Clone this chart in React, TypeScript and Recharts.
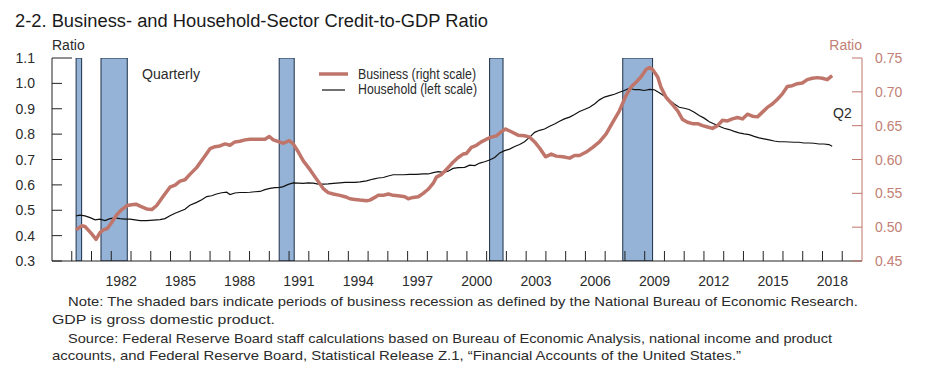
import React from 'react';
import { ComposedChart, Line, XAxis, YAxis, ReferenceArea } from 'recharts';

// ---------- data ----------
const businessDates = [
  1980.22, 1980.5, 1980.67, 1981.01, 1981.23, 1981.43, 1981.6, 1981.8, 1982.02, 1982.27, 1982.53, 1982.81,
  1983.03, 1983.25, 1983.46, 1983.79, 1984.05, 1984.3, 1984.64, 1984.97, 1985.23, 1985.48, 1985.73, 1985.98,
  1986.32, 1986.66, 1987.0, 1987.25, 1987.5, 1987.76, 1988.01, 1988.26, 1988.51, 1988.77, 1989.02, 1989.27,
  1989.53, 1989.78, 1990.0, 1990.2, 1990.5, 1990.71, 1991.01, 1991.21, 1991.47, 1991.72, 1992.06, 1992.39,
  1992.73, 1992.98, 1993.24, 1993.57, 1993.83, 1994.08, 1994.33, 1994.59, 1994.92, 1995.09, 1995.34, 1995.51,
  1995.77, 1996.02, 1996.27, 1996.61, 1996.86, 1997.03, 1997.28, 1997.54, 1997.79, 1998.04, 1998.3, 1998.46,
  1998.72, 1998.89, 1999.05, 1999.3, 1999.56, 1999.81, 1999.98, 2000.23, 2000.48, 2000.73, 2000.99, 2001.24,
  2001.49, 2001.74, 2001.96, 2002.25, 2002.59, 2002.92, 2003.18, 2003.43, 2003.68, 2003.98, 2004.27, 2004.52,
  2004.86, 2005.2, 2005.45, 2005.7, 2006.04, 2006.37, 2006.71, 2007.05, 2007.38, 2007.72, 2008.06, 2008.31,
  2008.56, 2008.81, 2009.07, 2009.24, 2009.4, 2009.66, 2009.82, 2010.08, 2010.41, 2010.67, 2010.92, 2011.17,
  2011.42, 2011.68, 2011.93, 2012.18, 2012.43, 2012.69, 2012.94, 2013.19, 2013.44, 2013.7, 2013.95, 2014.2,
  2014.45, 2014.71, 2014.96, 2015.21, 2015.46, 2015.72, 2015.97, 2016.22, 2016.47, 2016.73, 2016.98, 2017.23,
  2017.48, 2017.74, 2017.99, 2018.24, 2018.49,
];
const businessValues = [
  0.496, 0.502, 0.501, 0.49, 0.482, 0.492, 0.496, 0.498, 0.507, 0.518, 0.526, 0.532,
  0.533, 0.534, 0.531, 0.527, 0.526, 0.532, 0.546, 0.559, 0.562, 0.568, 0.57, 0.578,
  0.588, 0.602, 0.616, 0.619, 0.62, 0.623, 0.621, 0.626, 0.627, 0.629, 0.63, 0.63,
  0.63, 0.63, 0.634, 0.629, 0.626, 0.624, 0.628, 0.623, 0.611, 0.598, 0.585, 0.571,
  0.557, 0.551, 0.549, 0.547, 0.545, 0.542, 0.541, 0.54, 0.539, 0.54, 0.544, 0.547,
  0.547, 0.549, 0.547, 0.546, 0.545, 0.542, 0.544, 0.545, 0.55, 0.556, 0.565, 0.574,
  0.578, 0.583, 0.588, 0.596, 0.603, 0.608, 0.609, 0.618, 0.621, 0.626, 0.63, 0.633,
  0.635, 0.641, 0.645, 0.641, 0.636, 0.635, 0.633, 0.626, 0.617, 0.604, 0.608, 0.605,
  0.604, 0.602, 0.606, 0.606, 0.611, 0.618, 0.626, 0.638, 0.655, 0.672, 0.695, 0.707,
  0.714, 0.722, 0.733, 0.736, 0.733, 0.722, 0.707, 0.692, 0.681, 0.672, 0.659, 0.655,
  0.653, 0.653, 0.65, 0.648, 0.646, 0.65, 0.658, 0.657, 0.66, 0.662, 0.66, 0.667,
  0.664, 0.663, 0.67, 0.677, 0.682, 0.689, 0.697, 0.708, 0.709, 0.712, 0.713, 0.718,
  0.72, 0.721, 0.72, 0.718, 0.724,
];

const householdDates = [
  1980.22, 1980.42, 1980.67, 1980.93, 1981.18, 1981.43, 1981.68, 1981.94, 1982.19, 1982.44, 1982.7, 1982.95,
  1983.2, 1983.46, 1983.79, 1984.13, 1984.47, 1984.72, 1984.97, 1985.23, 1985.48, 1985.73, 1985.98, 1986.32,
  1986.58, 1986.83, 1987.08, 1987.33, 1987.59, 1987.84, 1988.01, 1988.26, 1988.51, 1988.77, 1989.02, 1989.27,
  1989.53, 1989.78, 1990.03, 1990.29, 1990.54, 1990.71, 1990.96, 1991.21, 1991.47, 1991.72, 1991.97, 1992.22,
  1992.48, 1992.73, 1992.98, 1993.24, 1993.57, 1993.83, 1994.08, 1994.33, 1994.59, 1994.92, 1995.26, 1995.51,
  1995.77, 1996.02, 1996.27, 1996.52, 1996.78, 1997.11, 1997.45, 1997.79, 1998.04, 1998.3, 1998.55, 1998.8,
  1999.05, 1999.3, 1999.56, 1999.89, 2000.14, 2000.4, 2000.65, 2000.9, 2001.15, 2001.41, 2001.66, 2001.91,
  2002.16, 2002.42, 2002.67, 2002.92, 2003.18, 2003.43, 2003.68, 2003.93, 2004.19, 2004.44, 2004.69, 2004.94,
  2005.2, 2005.45, 2005.7, 2005.95, 2006.21, 2006.46, 2006.71, 2006.96, 2007.22, 2007.47, 2007.72, 2007.97,
  2008.23, 2008.48, 2008.73, 2008.98, 2009.24, 2009.49, 2009.74, 2009.99, 2010.25, 2010.5, 2010.75, 2011.0,
  2011.25, 2011.51, 2011.76, 2012.01, 2012.27, 2012.52, 2012.77, 2013.02, 2013.28, 2013.53, 2013.78, 2014.03,
  2014.29, 2014.54, 2014.79, 2015.04, 2015.3, 2015.55, 2015.8, 2016.05, 2016.31, 2016.56, 2016.81, 2017.06,
  2017.32, 2017.57, 2017.82, 2018.07, 2018.33, 2018.49,
];
const householdValues = [
  0.478, 0.481, 0.478, 0.471, 0.462, 0.465, 0.459, 0.467, 0.47, 0.467, 0.465, 0.465,
  0.462, 0.459, 0.459, 0.461, 0.463, 0.467, 0.478, 0.488, 0.496, 0.504, 0.52, 0.531,
  0.541, 0.554, 0.557, 0.564, 0.569, 0.571, 0.562, 0.568, 0.57, 0.57, 0.571, 0.573,
  0.574, 0.581, 0.586, 0.589, 0.59, 0.593, 0.602, 0.608, 0.607, 0.606, 0.608, 0.607,
  0.603, 0.603, 0.604, 0.606, 0.608, 0.61, 0.61, 0.61, 0.612, 0.616, 0.623, 0.627,
  0.629, 0.635, 0.64, 0.64, 0.64, 0.641, 0.641, 0.643, 0.643, 0.648, 0.652, 0.649,
  0.654, 0.665, 0.668, 0.669, 0.678, 0.676, 0.686, 0.691, 0.698, 0.708, 0.726, 0.735,
  0.741, 0.751, 0.759, 0.77, 0.788, 0.807, 0.815, 0.82, 0.831, 0.84, 0.851, 0.86,
  0.867, 0.877, 0.889, 0.897, 0.906, 0.919, 0.935, 0.946, 0.952, 0.957, 0.965, 0.972,
  0.981, 0.975, 0.975, 0.972, 0.976, 0.975, 0.963, 0.95, 0.935, 0.919, 0.906, 0.902,
  0.897, 0.886, 0.873, 0.863, 0.849, 0.84, 0.831, 0.823, 0.818, 0.811, 0.805, 0.801,
  0.798, 0.791, 0.785, 0.781, 0.777, 0.773, 0.77, 0.77, 0.769, 0.768, 0.768, 0.765,
  0.765, 0.764, 0.761, 0.761, 0.759, 0.752,
];

const recessionStarts = [1980.22, 1981.48, 1990.5, 2001.15, 2007.89];
const recessionEnds = [1980.5, 1982.81, 1991.26, 2001.83, 2009.4];

const xDomain = [1979, 2020];
const yearTicks = Array.from({ length: 40 }, (_, i) => 1980 + i);
const labeledYears = [1982, 1985, 1988, 1991, 1994, 1997, 2000, 2003, 2006, 2009, 2012, 2015, 2018];
const leftTicks = [0.3, 0.4, 0.5, 0.6, 0.7, 0.8, 0.9, 1.0, 1.1];
const rightTicks = [0.45, 0.5, 0.55, 0.6, 0.65, 0.7, 0.75];

const businessData = businessDates.map((t, i) => ({ t, v: businessValues[i] }));
const householdData = householdDates.map((t, i) => ({ t, v: householdValues[i] }));

// ---------- layout / style ----------
const W = 933;
const H = 378;
const MARGIN = { top: 58, right: 0, bottom: 87, left: 8 };
const LEFT_W = 44;
const RIGHT_W = 71;
const PLOT_W = W - MARGIN.left - MARGIN.right - LEFT_W - RIGHT_W;
const PX_PER_YEAR = PLOT_W / (xDomain[1] - xDomain[0]);

const FONT = '"Liberation Sans", Arial, Helvetica, sans-serif';
const TEXT = '#2b2b2b';
const SALMON = '#c0756b';
const RIGHT_TXT = '#c27f76';
const BAR_FILL = '#95b3d6';
const BAR_STROKE = '#1d2f47';

const XTick = (props: any) => {
  const { x, y, payload } = props;
  const yr = payload.value;
  return (
    <g>
      <line x1={x} y1={y} x2={x} y2={y - 10} stroke="#222" strokeWidth={1} />
      {labeledYears.includes(yr) && (
        <text x={x + PX_PER_YEAR / 2} y={y + 25} textAnchor="middle" fontSize={14} fill={TEXT} fontFamily={FONT}>
          {String(yr)}
        </text>
      )}
    </g>
  );
};

const LeftTick = (props: any) => {
  const { x, y, payload } = props;
  const v = payload.value;
  const len = Math.abs(v - 1.1) < 1e-6 ? 20 : 10;
  return (
    <g>
      <line x1={x} y1={y} x2={x + len} y2={y} stroke="#222" strokeWidth={1} />
      <text x={x - 17} y={y + 5} textAnchor="end" fontSize={14} fill={TEXT} fontFamily={FONT}>
        {v.toFixed(1)}
      </text>
    </g>
  );
};

const RightTick = (props: any) => {
  const { x, y, payload } = props;
  const v = payload.value;
  return (
    <g>
      <line x1={x} y1={y} x2={x - 10} y2={y} stroke={SALMON} strokeWidth={1} />
      <text x={x + 13} y={y + 5} textAnchor="start" fontSize={14} fill={RIGHT_TXT} fontFamily={FONT}>
        {v.toFixed(2)}
      </text>
    </g>
  );
};

export default function App() {
  return (
    <div style={{ position: 'absolute', left: 0, top: 0, width: W, height: H, background: '#fff' }}>
      <ComposedChart width={W} height={H} margin={MARGIN}>
        <XAxis
          dataKey="t"
          type="number"
          domain={xDomain}
          ticks={yearTicks}
          interval={0}
          allowDataOverflow
          height={30}
          tickSize={0}
          tickMargin={0}
          tickLine={false}
          axisLine={{ stroke: '#222', strokeWidth: 1 }}
          tick={<XTick />}
        />
        <YAxis
          yAxisId="left"
          domain={[0.3, 1.1]}
          ticks={leftTicks}
          interval={0}
          width={LEFT_W}
          tickSize={0}
          tickMargin={0}
          tickLine={false}
          axisLine={{ stroke: '#222', strokeWidth: 1 }}
          tick={<LeftTick />}
        />
        <YAxis
          yAxisId="right"
          orientation="right"
          domain={[0.45, 0.75]}
          ticks={rightTicks}
          interval={0}
          width={RIGHT_W}
          tickSize={0}
          tickMargin={0}
          tickLine={false}
          axisLine={{ stroke: SALMON, strokeWidth: 1 }}
          tick={<RightTick />}
        />
        {recessionStarts.map((s, i) => (
          <ReferenceArea
            key={i}
            yAxisId="left"
            x1={s}
            x2={recessionEnds[i]}
            fill={BAR_FILL}
            fillOpacity={1}
            stroke={BAR_STROKE}
            strokeWidth={1}
            ifOverflow="hidden"
          />
        ))}
        <Line
          data={householdData}
          dataKey="v"
          yAxisId="left"
          type="linear"
          stroke="#111"
          strokeWidth={1.2}
          dot={false}
          activeDot={false}
          isAnimationActive={false}
        />
        <Line
          data={businessData}
          dataKey="v"
          yAxisId="right"
          type="linear"
          stroke={SALMON}
          strokeWidth={3.5}
          strokeLinejoin="round"
          dot={false}
          activeDot={false}
          isAnimationActive={false}
        />
      </ComposedChart>
      <svg
        width={W}
        height={H}
        style={{ position: 'absolute', left: 0, top: 0, pointerEvents: 'none' }}
        fontFamily={FONT}
      >
        <text x={15} y={27} fontSize={18} fill="#1a1a1a" textLength={473} lengthAdjust="spacingAndGlyphs">
          2-2. Business- and Household-Sector Credit-to-GDP Ratio
        </text>
        <text x={52} y={50} fontSize={14} fill={TEXT}>Ratio</text>
        <text x={862} y={50} fontSize={14} fill={RIGHT_TXT} textAnchor="end">Ratio</text>
        <text x={142} y={79} fontSize={14} fill={TEXT} textLength={58} lengthAdjust="spacingAndGlyphs">Quarterly</text>
        <text x={833} y={118} fontSize={14} fill={TEXT}>Q2</text>
        <line x1={319} y1={74} x2={348} y2={74} stroke={SALMON} strokeWidth={3.5} />
        <text x={358} y={79} fontSize={14} fill={TEXT} textLength={118} lengthAdjust="spacingAndGlyphs">
          Business (right scale)
        </text>
        <line x1={322} y1={90} x2={345} y2={90} stroke="#111" strokeWidth={1.2} />
        <text x={358} y={94} fontSize={14} fill={TEXT} textLength={119} lengthAdjust="spacingAndGlyphs">
          Household (left scale)
        </text>
        <text x={68} y={306} fontSize={13.5} fill={TEXT} textLength={790} lengthAdjust="spacingAndGlyphs">
          Note: The shaded bars indicate periods of business recession as defined by the National Bureau of Economic Research.
        </text>
        <text x={52} y={324} fontSize={13.5} fill={TEXT} textLength={223} lengthAdjust="spacingAndGlyphs">
          GDP is gross domestic product.
        </text>
        <text x={68} y={343} fontSize={13.5} fill={TEXT} textLength={764} lengthAdjust="spacingAndGlyphs">
          Source: Federal Reserve Board staff calculations based on Bureau of Economic Analysis, national income and product
        </text>
        <text x={52} y={360} fontSize={13.5} fill={TEXT} textLength={689} lengthAdjust="spacingAndGlyphs">
          accounts, and Federal Reserve Board, Statistical Release Z.1, “Financial Accounts of the United States.”
        </text>
      </svg>
    </div>
  );
}
